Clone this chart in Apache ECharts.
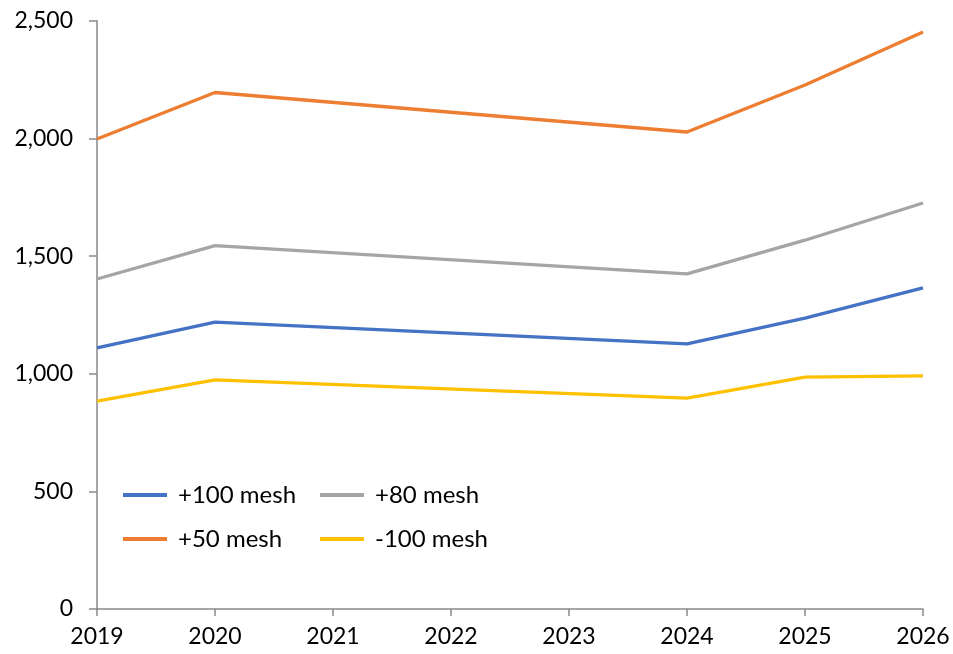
<!DOCTYPE html>
<html>
<head>
<meta charset="utf-8">
<script src="https://cdn.jsdelivr.net/npm/echarts@6/dist/echarts.min.js"></script>
<style>
  html, body { margin: 0; padding: 0; background: #fff; }
  #containerg { width: 953px; height: 654px; }
</style>
</head>
<body>
<div id="containerg"></div>
<script>
var years = ['2019', '2020', '2021', '2022', '2023', '2024', '2025', '2026'];
var yTicks = [0, 500, 1000, 1500, 2000, 2500];

// no readings for 2021-2023, the line just joins 2020 and 2024
var mesh100 = [1110, 1220, null, null, null, 1127, 1237, 1365];
var mesh80 = [1403, 1545, null, null, null, 1425, 1568, 1726];
var mesh50 = [1998, 2196, null, null, null, 2028, 2228, 2453];
var meshMinus100 = [884, 974, null, null, null, 897, 986, 991];

var fontName = 'Lato';

function serie(name, data, color) {
    return {
        name: name,
        type: 'line',
        data: data,
        connectNulls: true,
        symbol: 'none',
        lineStyle: { color: color, width: 3.3 },
        itemStyle: { color: color }
    };
}

// one legend per item so the two columns line up like the original
function leyenda(name, left, top) {
    return {
        orient: 'horizontal',
        left: left,
        top: top,
        icon: 'rect',
        itemWidth: 44,
        itemHeight: 4,
        data: [name],
        textStyle: { fontFamily: fontName, fontSize: 24, color: '#000', padding: [0, 0, 0, 6] }
    };
}

var dom = document.getElementById('containerg');
var myChart = echarts.init(dom);

var option = {
    animation: false,
    grid: { left: 97, right: 30, top: 21, bottom: 45, containLabel: false },
    legend: [
        leyenda('+100 mesh', 118, 478),
        leyenda('+80 mesh', 315, 478),
        leyenda('+50 mesh', 118, 522),
        leyenda('-100 mesh', 315, 522)
    ],
    xAxis: {
        type: 'category',
        data: years,
        boundaryGap: false,
        axisLine: { lineStyle: { color: '#898989', width: 1.5 } },
        axisTick: { show: true, length: 7, lineStyle: { color: '#898989', width: 1.5 } },
        axisLabel: { color: '#000', fontFamily: fontName, fontSize: 23, margin: 16 },
        splitLine: { show: false }
    },
    yAxis: {
        type: 'value',
        min: 0,
        max: 2500,
        interval: 500,
        axisLine: { show: true, lineStyle: { color: '#898989', width: 1.5 } },
        axisTick: { show: true, length: 8, lineStyle: { color: '#898989', width: 1.5 } },
        axisLabel: {
            color: '#000', fontFamily: fontName, fontSize: 23, margin: 24,
            formatter: function (v) {
                return yTicks.indexOf(v) >= 0 ? v.toLocaleString('en-US') : '';
            }
        },
        splitLine: { show: false }
    },
    series: [
        serie('+100 mesh', mesh100, '#4472C4'),
        serie('+80 mesh', mesh80, '#A5A5A5'),
        serie('+50 mesh', mesh50, '#ED7D31'),
        serie('-100 mesh', meshMinus100, '#FFC000')
    ]
};

myChart.setOption(option);
</script>
</body>
</html>
